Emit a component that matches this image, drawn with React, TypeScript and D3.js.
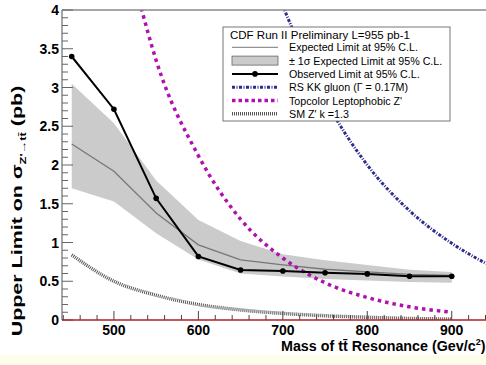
import React from "react";
import * as d3 from "d3";

const W = 486;
const H = 365;
const left = 62;
const top = 10;
const bottom = 320;

// masses where the limits were computed
const masses = [450, 500, 550, 600, 650, 700, 750, 800, 850, 900];
const observed = [3.4, 2.72, 1.57, 0.82, 0.645, 0.633, 0.61, 0.595, 0.565, 0.565];
const expected = [2.27, 1.92, 1.38, 0.97, 0.775, 0.71, 0.655, 0.62, 0.59, 0.575];
const bandHigh = [3.05, 2.54, 1.8, 1.29, 1.02, 0.85, 0.77, 0.71, 0.65, 0.62];
const bandLow = [1.7, 1.53, 1.12, 0.78, 0.6, 0.56, 0.53, 0.51, 0.49, 0.48];

// theory curves
const topcolorMass = [530, 550, 600, 650, 700, 750, 800, 850, 900];
const topcolor = [4.12, 3.35, 2.12, 1.3, 0.8, 0.48, 0.29, 0.17, 0.1];
const kkMass = [700, 750, 800, 850, 900, 950, 970];
const kkGluon = [4.05, 2.85, 2.0, 1.41, 0.99, 0.68, 0.58];
const smMass = [450, 500, 550, 600, 650, 700, 750, 800, 850, 900];
const smZprime = [0.84, 0.5, 0.32, 0.2, 0.13, 0.085, 0.055, 0.035, 0.02, 0.012];

const xTicks = [500, 600, 700, 800, 900];
const yTicks = [0, 0.5, 1, 1.5, 2, 2.5, 3, 3.5, 4];
const yTickLabels = ["0", "0.5", "1", "1.5", "2", "2.5", "3", "3.5", "4"];

const legendTitle = "CDF Run II Preliminary L=955 pb-1";
const legendLabels = [
  "Expected Limit at 95% C.L.",
  "\u00b1 1\u03c3 Expected Limit at 95% C.L.",
  "Observed Limit at 95% C.L.",
  "RS KK gluon (\u0393 = 0.17M)",
  "Topcolor Leptophobic Z'",
  "SM Z' k =1.3",
];

const font = "'Liberation Sans', Arial, Helvetica, sans-serif";
const magenta = "#b010b0";
const navy = "#2c2c8e";
const smColor = "#555";

export default function App() {
  const x = d3.scaleLinear().domain([438.5, 960]).range([left, 502.4]);
  const y = d3.scaleLinear().domain([0, 4]).range([bottom, top]);

  const pts = (ms: number[], vs: number[]) => ms.map((m, i) => [m, vs[i]] as [number, number]);

  const line = d3.line<[number, number]>().x((d) => x(d[0])).y((d) => y(d[1]));
  const smooth = d3
    .line<[number, number]>()
    .x((d) => x(d[0]))
    .y((d) => y(d[1]))
    .curve(d3.curveMonotoneX);
  const band = d3
    .area<number>()
    .x((_, i) => x(masses[i]))
    .y0((_, i) => y(bandLow[i]))
    .y1((_, i) => y(bandHigh[i]));

  const minorX = d3.range(440, 961, 20).filter((v) => v % 100 !== 0);
  const minorY = d3.range(0, 41).map((v) => v / 10).filter((v) => Math.round(v * 10) % 5 !== 0);

  const rowY = (i: number) => 47.3 + i * 13.3;
  const sx0 = 232;
  const sx1 = 278;

  return (
    <svg width={W} height={H} style={{ position: "absolute", left: 0, top: 0, background: "#fff" }} fontFamily={font}>
      <defs>
        <clipPath id="plot">
          <rect x={left} y={top} width={W - left} height={bottom - top} />
        </clipPath>
      </defs>
      <rect x={0} y={355} width={W} height={H - 355} fill="#fdfdea" />

      <g clipPath="url(#plot)">
        <path d={band(masses) ?? ""} fill="#cbcbcb" />
        <path d={line(pts(masses, expected)) ?? ""} fill="none" stroke="#777" strokeWidth={1.3} />
        <path d={smooth(pts(smMass, smZprime)) ?? ""} fill="none" stroke={smColor} strokeWidth={3.5} strokeDasharray="1 1" />
        <path d={smooth(pts(topcolorMass, topcolor)) ?? ""} fill="none" stroke={magenta} strokeWidth={3.5} strokeDasharray="3.5 4" />
        <path d={smooth(pts(kkMass, kkGluon)) ?? ""} fill="none" stroke={navy} strokeWidth={3} strokeDasharray="3 1.5 1 1.5" />
        <path d={line(pts(masses, observed)) ?? ""} fill="none" stroke="#000" strokeWidth={2} />
        {masses.map((m, i) => (
          <circle key={m} cx={x(m)} cy={y(observed[i])} r={2.8} fill="#000" />
        ))}
      </g>

      {/* frame */}
      <line x1={left} x2={W} y1={top} y2={top} stroke="#8a8a8a" strokeWidth={1.5} />
      <line x1={left} x2={left} y1={top} y2={bottom} stroke="#8a8a8a" strokeWidth={1.5} />

      {/* y ticks */}
      {yTicks.map((v) => (
        <line key={"yM" + v} x1={left} x2={left + 11} y1={y(v)} y2={y(v)} stroke="#666" strokeWidth={1} />
      ))}
      {minorY.map((v) => (
        <line key={"ym" + v} x1={left} x2={left + 6} y1={y(v)} y2={y(v)} stroke="#666" strokeWidth={1} />
      ))}
      {yTicks.map((v, i) => (
        <text key={"yl" + v} x={left - 3} y={y(v) + 5} textAnchor="end" fontSize={14} fontWeight="bold">
          {yTickLabels[i]}
        </text>
      ))}

      {/* x ticks */}
      {xTicks.map((v) => (
        <line key={"xM" + v} x1={x(v)} x2={x(v)} y1={bottom} y2={bottom - 9} stroke="#444" strokeWidth={1} />
      ))}
      {minorX.map((v) => (
        <line key={"xm" + v} x1={x(v)} x2={x(v)} y1={bottom} y2={bottom - 5} stroke="#444" strokeWidth={1} />
      ))}
      <line x1={left} x2={W} y1={bottom} y2={bottom} stroke="#b02020" strokeWidth={1.6} />
      {xTicks.map((v) => (
        <text key={"xl" + v} x={x(v)} y={335} textAnchor="middle" fontSize={14} fontWeight="bold">
          {v}
        </text>
      ))}

      {/* axis titles */}
      <text x={281} y={351} fontSize={14.3} fontWeight="bold">
        Mass of t{"t\u0304"} Resonance (Gev/c<tspan dy={-6} fontSize={9}>2</tspan>
        <tspan dy={6}>)</tspan>
      </text>
      <text transform="translate(22,211) rotate(-90) scale(1.43,1)" textAnchor="middle" fontSize={15} fontWeight="bold">
        Upper Limit on {"\u03c3"}
        <tspan dy={4} fontSize={9}>{"Z'\u2192tt\u0304"}</tspan>
        <tspan dy={-4}> (pb)</tspan>
      </text>

      {/* legend */}
      <rect x={223} y={27} width={227} height={94} fill="#fff" stroke="#777" strokeWidth={1} />
      <text x={230} y={38.5} fontSize={11.5}>
        {legendTitle}
      </text>
      <line x1={sx0} x2={sx1} y1={rowY(0)} y2={rowY(0)} stroke="#777" strokeWidth={1} />
      <rect x={sx0} y={rowY(1) - 4.5} width={sx1 - sx0} height={9} fill="#cbcbcb" stroke="#666" strokeWidth={0.8} />
      <line x1={sx0} x2={sx1} y1={rowY(2)} y2={rowY(2)} stroke="#000" strokeWidth={2} />
      <circle cx={(sx0 + sx1) / 2} cy={rowY(2)} r={2.8} fill="#000" />
      <line x1={sx0} x2={sx1} y1={rowY(3)} y2={rowY(3)} stroke={navy} strokeWidth={3} strokeDasharray="3 1.5 1 1.5" />
      <line x1={sx0} x2={sx1} y1={rowY(4)} y2={rowY(4)} stroke={magenta} strokeWidth={3.5} strokeDasharray="3.5 3" />
      <line x1={sx0} x2={sx1} y1={rowY(5)} y2={rowY(5)} stroke={smColor} strokeWidth={3.5} strokeDasharray="1 1" />
      {legendLabels.map((t, i) => (
        <text key={t} x={289} y={rowY(i) + 4} fontSize={10.7}>
          {t}
        </text>
      ))}
    </svg>
  );
}
